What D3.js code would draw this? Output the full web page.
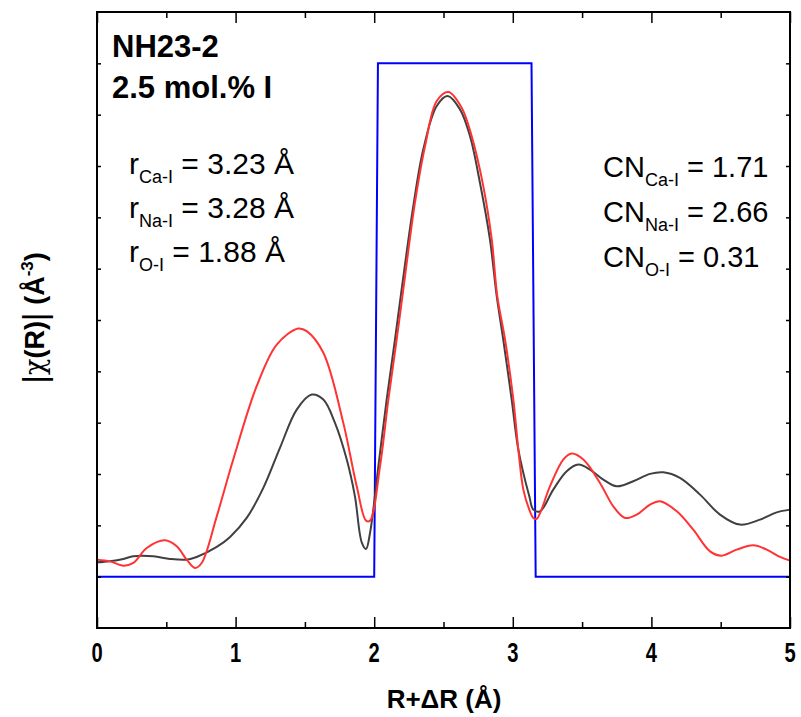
<!DOCTYPE html>
<html><head><meta charset="utf-8">
<script src="https://cdn.jsdelivr.net/npm/d3@7"></script>
<style>body{margin:0;background:#fff}svg{display:block}text{font-family:"Liberation Sans",Arial,sans-serif}</style>
</head><body>
<svg id="c" width="801" height="717"></svg>
<script>
// Experimental |chi(R)| (dark gray)
const dataR = [0.0,0.094,0.19,0.262,0.406,0.527,0.647,0.719,0.864,0.96,1.08,1.2,1.32,1.441,1.549,1.633,1.717,1.802,1.861,1.91,1.941,1.97,2.03,2.09,2.15,2.198,2.282,2.354,2.451,2.53,2.619,2.691,2.763,2.835,2.884,2.931,2.992,3.04,3.119,3.148,3.196,3.292,3.389,3.473,3.557,3.653,3.75,3.869,3.99,4.086,4.206,4.351,4.495,4.639,4.784,4.904,5.0];
const dataV = [0.279,0.302,0.345,0.396,0.396,0.345,0.331,0.384,0.579,0.774,1.144,1.729,2.509,3.255,3.548,3.45,2.996,2.281,1.565,0.669,0.54,0.852,2.15,3.45,4.62,5.595,7.218,8.324,9.168,9.363,9.103,8.583,7.674,6.569,5.464,4.62,3.45,2.476,1.565,1.306,1.273,1.696,2.053,2.183,2.086,1.891,1.76,1.858,2.002,2.033,1.924,1.598,1.209,1.014,1.111,1.253,1.306];
// Fit (red)
const fitR = [0.0,0.094,0.19,0.262,0.359,0.491,0.575,0.647,0.707,0.755,0.864,0.983,1.152,1.297,1.452,1.513,1.633,1.777,1.874,1.941,1.97,2.042,2.102,2.162,2.21,2.294,2.367,2.451,2.535,2.631,2.703,2.787,2.848,2.888,2.944,3.004,3.04,3.076,3.119,3.148,3.172,3.268,3.364,3.425,3.509,3.629,3.725,3.81,3.894,3.99,4.062,4.183,4.302,4.423,4.507,4.615,4.735,4.832,4.928,5.0];
const fitV = [0.331,0.298,0.214,0.267,0.559,0.708,0.591,0.331,0.17,0.267,1.175,2.281,3.71,4.522,4.834,4.782,4.361,2.996,1.76,1.092,1.092,2.15,3.45,4.62,5.595,7.285,8.388,9.265,9.441,9.136,8.583,7.608,6.569,5.464,4.62,3.45,2.476,1.696,1.306,1.144,1.125,1.76,2.281,2.398,2.281,1.826,1.37,1.144,1.209,1.404,1.468,1.273,0.916,0.493,0.409,0.526,0.61,0.526,0.384,0.312];
// Fitting window (blue)
const winR = [0.0,2.0,2.027,3.135,3.165,5.0];
const winV = [0,0,10,10,0,0];
const xTicks = [0,1,2,3,4,5];
const xMinor = [0.5,1.5,2.5,3.5,4.5];
const yTicks = [0,1,2,3,4,5,6,7,8,9,10];

const svg = d3.select("#c");
const L=97,R=790,T=12,B=628;
const x = d3.scaleLinear().domain([0,5]).range([L,R]);
const y = d3.scaleLinear().domain([-1,11]).range([B,T]);
const idx = a => a.map((_,i)=>i);

svg.append("path").attr("d", d3.line().x(i=>x(winR[i])).y(i=>y(winV[i]))(idx(winR)))
  .attr("fill","none").attr("stroke","#0000ff").attr("stroke-width",2);
svg.append("path").attr("d", d3.line().curve(d3.curveCatmullRom.alpha(0.5)).x(i=>x(dataR[i])).y(i=>y(dataV[i]))(idx(dataR)))
  .attr("fill","none").attr("stroke","#404040").attr("stroke-width",2);
svg.append("path").attr("d", d3.line().curve(d3.curveCatmullRom.alpha(0.5)).x(i=>x(fitR[i])).y(i=>y(fitV[i]))(idx(fitR)))
  .attr("fill","none").attr("stroke","#ff3333").attr("stroke-width",2);

// axes
const tickStyle = g => { g.select(".domain").remove(); g.selectAll("line").attr("stroke","#000").attr("stroke-width",1.5); };
svg.append("g").attr("transform",`translate(0,${B})`).call(d3.axisTop(x).tickValues(xTicks).tickSize(11).tickFormat("")).call(tickStyle);
svg.append("g").attr("transform",`translate(0,${B})`).call(d3.axisTop(x).tickValues(xMinor).tickSize(6).tickFormat("")).call(tickStyle);
svg.append("g").attr("transform",`translate(0,${T})`).call(d3.axisBottom(x).tickValues(xTicks).tickSize(11).tickFormat("")).call(tickStyle);
svg.append("g").attr("transform",`translate(0,${T})`).call(d3.axisBottom(x).tickValues(xMinor).tickSize(6).tickFormat("")).call(tickStyle);
svg.append("g").attr("transform",`translate(${L},0)`).call(d3.axisRight(y).tickValues(yTicks).tickSize(4).tickFormat("")).call(tickStyle);
svg.append("g").attr("transform",`translate(${R},0)`).call(d3.axisLeft(y).tickValues(yTicks).tickSize(4).tickFormat("")).call(tickStyle);
svg.append("rect").attr("x",L).attr("y",T).attr("width",R-L).attr("height",B-T)
  .attr("fill","none").attr("stroke","#000").attr("stroke-width",2);

// tick labels
svg.append("g").selectAll("text").data(xTicks).join("text")
  .attr("x",d=>x(d)).attr("y",662).attr("text-anchor","middle")
  .attr("font-size",28).attr("font-weight","bold")
  .attr("transform",d=>`translate(${x(d)},662) scale(0.72,1) translate(${-x(d)},-662)`)
  .text(d=>d);

// axis titles
svg.append("text").attr("x",444).attr("y",708).attr("text-anchor","middle")
  .attr("font-size",26).attr("font-weight","bold").text("R+ΔR (Å)");
const yt = svg.append("text").attr("transform","translate(44,318) rotate(-90)").attr("text-anchor","middle")
  .attr("font-size",27).attr("font-weight","bold");
yt.append("tspan").attr("font-weight","normal").attr("font-size",34).attr("dy",2).text("|");
yt.append("tspan").attr("font-weight","normal").attr("font-family","DejaVu Serif").attr("dy",-2).text("χ");
yt.append("tspan").text("(R)");
yt.append("tspan").attr("font-weight","normal").attr("font-size",34).attr("dy",2).text("|");
yt.append("tspan").attr("dy",-2).text(" (Å");
yt.append("tspan").attr("font-size",17).attr("dy",-11).text("-3");
yt.append("tspan").attr("dy",11).text(")");

// annotations
svg.append("text").attr("x",112).attr("y",57).attr("font-size",31).attr("font-weight","bold").text("NH23-2");
svg.append("text").attr("x",112).attr("y",98).attr("font-size",31).attr("font-weight","bold").text("2.5 mol.% I");

const rLab = [["r","Ca-I"," = 3.23 Å"],["r","Na-I"," = 3.28 Å"],["r","O-I"," = 1.88 Å"]];
const rY = [174,218,262];
rLab.forEach((l,i)=>{
  const t = svg.append("text").attr("x",129).attr("y",rY[i]).attr("font-size",30);
  t.append("tspan").text(l[0]);
  t.append("tspan").attr("font-size",18).attr("dy",9).text(l[1]);
  t.append("tspan").attr("dy",-9).text(l[2]);
});
const cnLab = [["CN","Ca-I"," = 1.71"],["CN","Na-I"," = 2.66"],["CN","O-I"," = 0.31"]];
const cnY = [177,222,267];
cnLab.forEach((l,i)=>{
  const t = svg.append("text").attr("x",603).attr("y",cnY[i]).attr("font-size",29);
  t.append("tspan").text(l[0]);
  t.append("tspan").attr("font-size",18).attr("dy",9).text(l[1]);
  t.append("tspan").attr("dy",-9).text(l[2]);
});
</script>
</body></html>
